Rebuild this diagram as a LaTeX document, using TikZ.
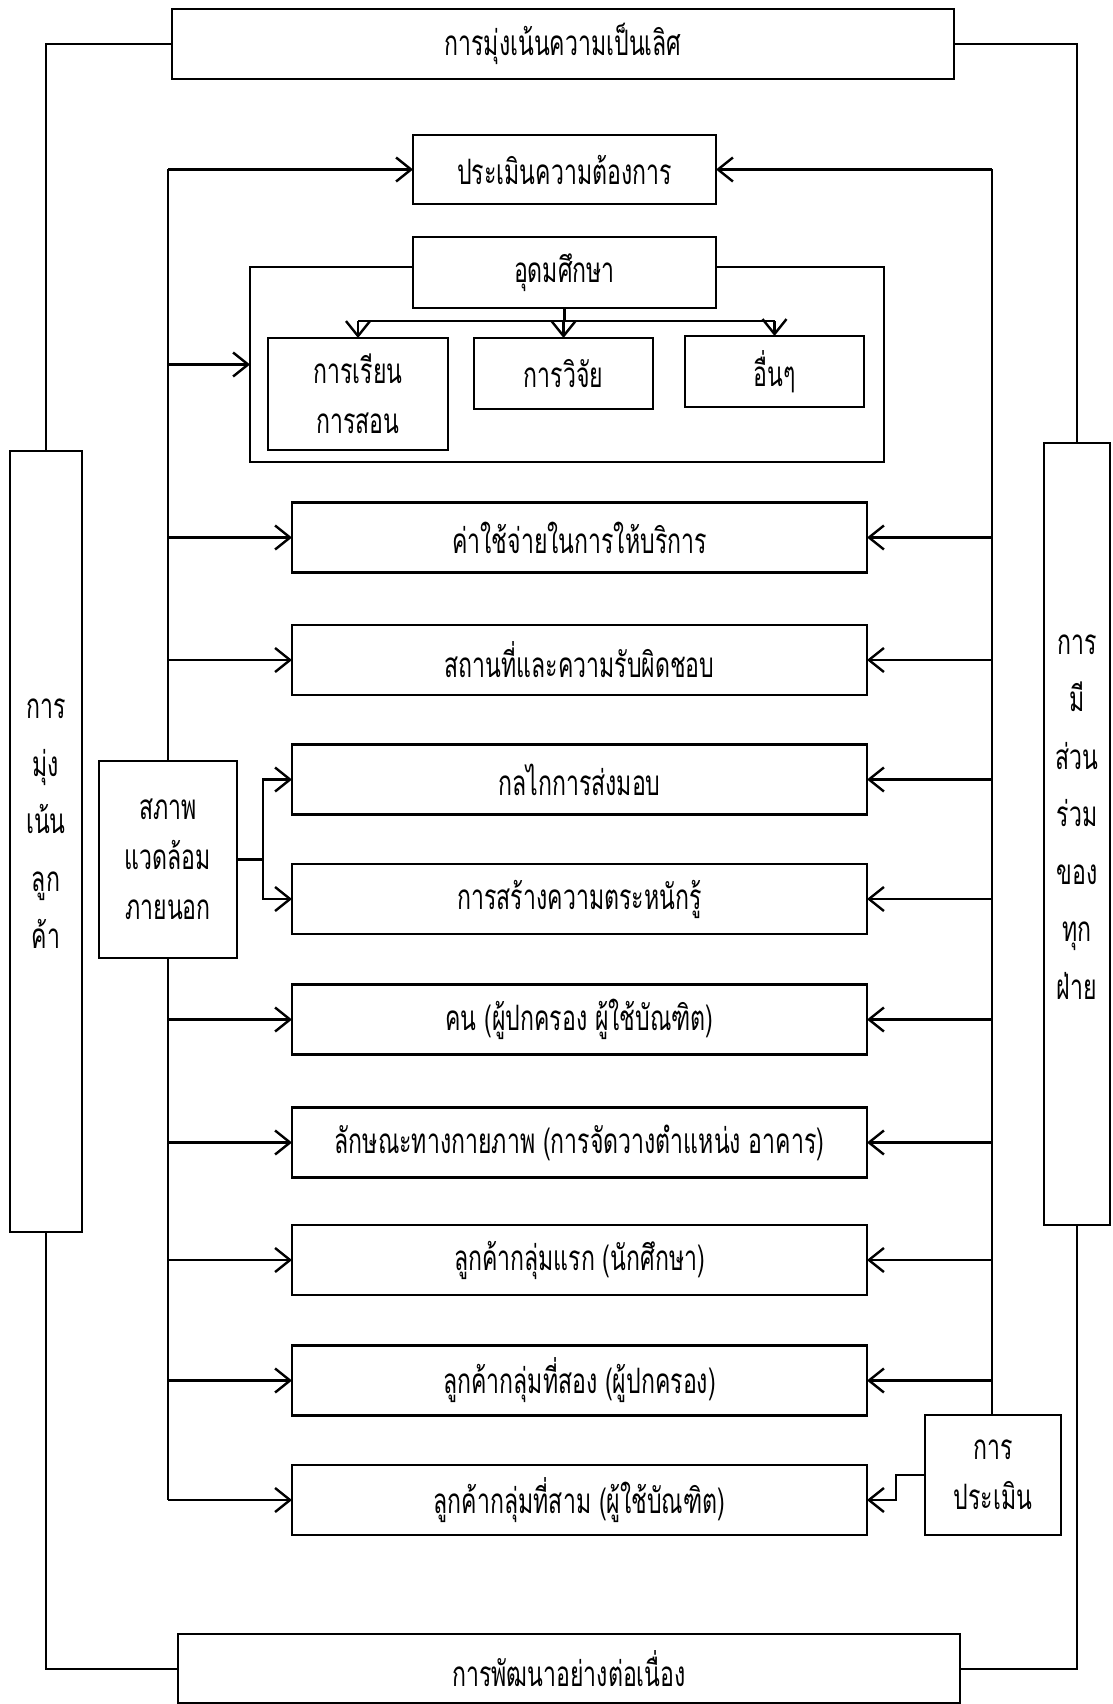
\documentclass[tikz,border=0pt]{standalone}
\usepackage{fontspec}
\setmainfont[Script=Thai,FakeStretch=0.66]{Loma}
\usetikzlibrary{arrows.meta}
\begin{document}
\begin{tikzpicture}[x=1pt,y=-1pt,
  box/.style={draw,line width=2.4pt,fill=white,inner sep=0pt,outer sep=0pt,align=center,
    font=\fontsize{35}{50}\selectfont},
  rowbox/.style={box,minimum width=575pt,minimum height=70pt},
  sidetext/.style={align=center,inner sep=0pt,font=\fontsize{35}{57.5}\selectfont},
  conn/.style={line width=2.4pt},
  outer/.style={line width=2pt},
  arr/.style={line width=2.4pt,-{Straight Barb[length=15pt,width=24pt]}}]
\useasboundingbox (0,0) rectangle (1112,1704);
\fill[white] (0,0) rectangle (1112,1704);

% outer frame boxes
\node[box,minimum width=782pt,minimum height=70pt] (top) at (563,44) {การมุ่งเน้นความเป็นเลิศ};
\node[box,minimum width=782pt,minimum height=69pt] (bot) at (569,1668.5) {การพัฒนาอย่างต่อเนื่อง};
\node[box,minimum width=72pt,minimum height=781pt] (cl) at (46,841.5) {};
\node[sidetext] (cltext) at (46,824) {การ\\มุ่ง\\เน้น\\ลูก\\ค้า};
\node[box,minimum width=66pt,minimum height=782pt] (pa) at (1077,834) {};
\node[sidetext] (patext) at (1077,817) {การ\\มี\\ส่วน\\ร่วม\\ของ\\ทุก\\ฝ่าย};

\draw[outer] (top.west) -| (cl.north);
\draw[outer] (cl.south) |- (bot.west);
\draw[outer] (top.east) -| (pa.north);
\draw[outer] (pa.south) |- (bot.east);

% inner boxes
\node[box,minimum width=303pt,minimum height=69pt] (need) at (564.5,169.5) {ประเมินความต้องการ};
\node[draw,line width=2.4pt,minimum width=634pt,minimum height=195pt,inner sep=0pt,outer sep=0pt] (frame) at (567,364.5) {};
\node[box,minimum width=303pt,minimum height=71pt] (udom) at (564.5,272.5) {อุดมศึกษา};
\node[box,minimum width=180pt,minimum height=112pt] (learn) at (358,394) {การเรียน\\การสอน};
\node[box,minimum width=179pt,minimum height=71pt] (res) at (563.5,373.5) {การวิจัย};
\node[box,minimum width=179pt,minimum height=71pt] (oth) at (774.5,371.5) {อื่นๆ};

\coordinate (bar) at (0,321);
\draw[conn] (udom.south) -- (udom.south |- bar);
\draw[conn] (learn.north |- bar) -- (oth.north |- bar);
\draw[arr] (learn.north |- bar) -- (learn.north);
\draw[arr] (res.north |- bar) -- (res.north);
\draw[arr] (oth.north |- bar) -- (oth.north);

\node[rowbox] (r1) at (579.5,537.5) {ค่าใช้จ่ายในการให้บริการ};
\node[rowbox] (r2) at (579.5,660) {สถานที่และความรับผิดชอบ};
\node[rowbox] (r3) at (579.5,779.5) {กลไกการส่งมอบ};
\node[rowbox] (r4) at (579.5,899) {การสร้างความตระหนักรู้};
\node[rowbox] (r5) at (579.5,1019.5) {คน (ผู้ปกครอง ผู้ใช้บัณฑิต)};
\node[rowbox] (r6) at (579.5,1142.5) {ลักษณะทางกายภาพ (การจัดวางตำแหน่ง อาคาร)};
\node[rowbox] (r7) at (579.5,1260) {ลูกค้ากลุ่มแรก (นักศึกษา)};
\node[rowbox] (r8) at (579.5,1380.5) {ลูกค้ากลุ่มที่สอง (ผู้ปกครอง)};
\node[rowbox] (r9) at (579.5,1500) {ลูกค้ากลุ่มที่สาม (ผู้ใช้บัณฑิต)};

\node[box,minimum width=138pt,minimum height=197pt] (env) at (168,859.5) {สภาพ\\แวดล้อม\\ภายนอก};
\node[box,minimum width=136pt,minimum height=120pt] (eval) at (993,1475) {การ\\ประเมิน};

% left spine
\coordinate (L) at (168,0);
\draw[conn] (L |- need.west) -- (env.north);
\draw[conn] (env.south) -- (L |- r9.west);
\foreach \n in {need,frame,r1,r2,r5,r6,r7,r8,r9}
  \draw[arr] (L |- \n.west) -- (\n.west);
\draw[arr] (env.east) -- ++(26,0) |- (r3.west);
\draw[arr] (env.east) -- ++(26,0) |- (r4.west);

% right spine
\coordinate (R) at (992,0);
\draw[conn] (R |- need.east) -- (R |- eval.north);
\foreach \n in {need,r1,r2,r3,r4,r5,r6,r7,r8}
  \draw[arr] (R |- \n.east) -- (\n.east);
\draw[arr] (eval.west) -- ++(-29,0) |- (r9.east);
\end{tikzpicture}
\end{document}
